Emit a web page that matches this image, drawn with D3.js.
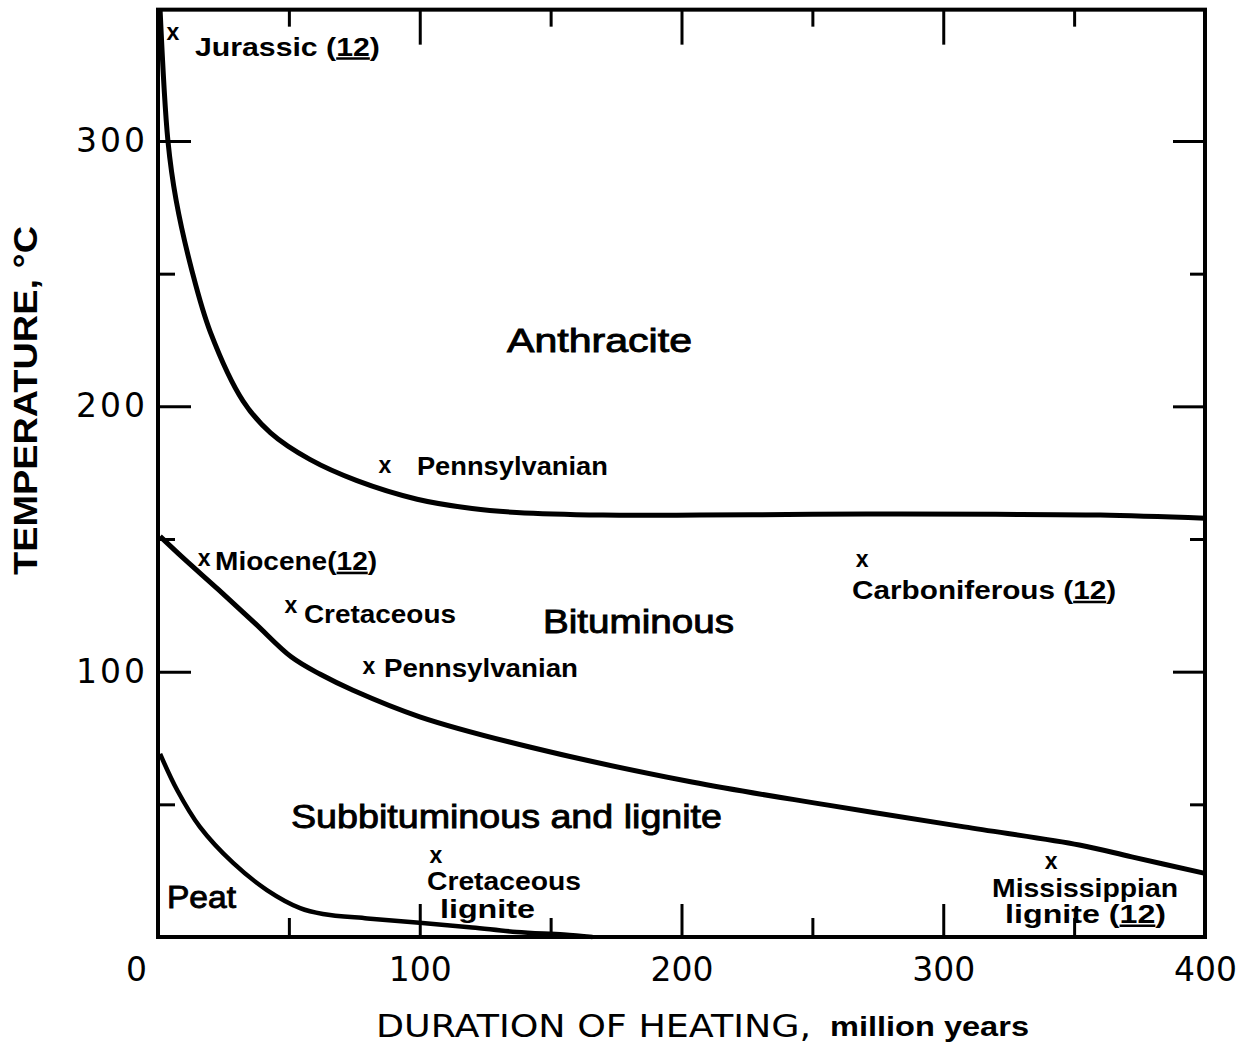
<!DOCTYPE html>
<html><head><meta charset="utf-8">
<script src="https://cdn.jsdelivr.net/npm/d3@7"></script>
<style>body{margin:0;background:#fff}</style>
</head><body><svg id="c" width="1251" height="1045"></svg>
<script>
// ---------- data ----------
const xTicksMajor = [0, 100, 200, 300, 400];
const xTicksMinor = [50, 150, 250, 350];
const yTicksMajor = [100, 200, 300];
const yTicksMinor = [50, 150, 250];

// boundary anthracite / bituminous
const anthraciteDur  = [0.8, 3.8, 6.9, 13, 20, 32.5, 43, 58, 76, 99, 120, 137, 170, 207, 250, 284, 320, 360, 400];
const anthraciteTemp = [349.4, 300, 277.8, 251, 228, 202, 190, 180, 172, 165, 161.5, 160, 159, 159, 159.3, 159.4, 159.3, 159, 157.8];
// boundary bituminous / subbituminous
const bituminousDur  = [0.8, 10, 23, 37, 51, 62, 74.5, 100, 142, 204, 256, 308, 352, 372, 400];
const bituminousTemp = [151, 142.5, 131, 118.3, 105.5, 99, 93, 83, 71.6, 58.4, 49.7, 41.5, 34.7, 30.2, 24];
// boundary subbituminous / peat
const peatDur  = [0.8, 7.3, 16, 28.7, 41.6, 54.3, 63, 80, 101, 120, 137, 155, 166];
const peatTemp = [69, 55.4, 41.5, 27.9, 17.7, 10.9, 8.7, 7.0, 5.3, 3.6, 1.9, 0.9, 0];

// sample points
const sampleNames = ["Jurassic (12)", "Pennsylvanian", "Miocene(12)", "Cretaceous", "Pennsylvanian",
                     "Carboniferous (12)", "Cretaceous|lignite", "Mississippian|lignite (12)"];
const sampleDur  = [5.7, 86.7, 17.6, 50.8, 80.6, 269, 106.2, 341.2];
const sampleTemp = [340.5, 177.1, 142.1, 124.4, 101.4, 141.7, 30.2, 28];

const regionNames = ["Anthracite", "Bituminous", "Subbituminous and lignite", "Peat"];

// ---------- layout ----------
const labelLayout = [
  [{dx: 22, dy: 22, w: 185}],
  [{dx: 32, dy: 8, w: 191}],
  [{dx: 11, dy: 10, w: 162}],
  [{dx: 13, dy: 16, w: 152}],
  [{dx: 15, dy: 9, w: 194}],
  [{dx: -10, dy: 38, w: 264}],
  [{dx: -9, dy: 33, w: 154}, {dx: 4, dy: 61, w: 95}],
  [{dx: -59, dy: 34, w: 186}, {dx: -46, dy: 60, w: 161}]
];
const regionLayout = [
  {x: 507, y: 352, w: 185, fs: 33},
  {x: 543, y: 633, w: 191, fs: 33},
  {x: 291, y: 828, w: 431, fs: 33},
  {x: 167, y: 908, w: 69, fs: 31}
];

const svg = d3.select("#c");
svg.append("rect").attr("width", 1251).attr("height", 1045).attr("fill", "#fff");

const x = d3.scaleLinear().domain([0, 400]).range([158, 1205]);
const y = d3.scaleLinear().domain([0, 300]).range([937, 141]);
const yTop = 349.5;

// frame
svg.append("rect")
  .attr("x", x(0)).attr("y", y(yTop))
  .attr("width", x(400) - x(0)).attr("height", y(0) - y(yTop))
  .attr("fill", "none").attr("stroke", "#000").attr("stroke-width", 4);

function styleAxis(g) {
  g.select(".domain").remove();
  g.selectAll(".tick line").attr("stroke", "#000").attr("stroke-width", 3);
  g.selectAll(".tick text").attr("fill", "#000")
    .attr("font-family", "DejaVu Sans").attr("font-size", 33);
}

// bottom axis
const gB = svg.append("g").attr("transform", `translate(0,${y(0)})`)
  .call(d3.axisBottom(x).tickValues(xTicksMajor).tickSize(-33).tickPadding(21).tickFormat(d3.format("d")));
styleAxis(gB);
gB.selectAll(".tick text").filter(d => d === 0).attr("x", -22);
const gBm = svg.append("g").attr("transform", `translate(0,${y(0)})`)
  .call(d3.axisBottom(x).tickValues(xTicksMinor).tickSize(-19).tickFormat(""));
styleAxis(gBm);

// top axis
const gT = svg.append("g").attr("transform", `translate(0,${y(yTop)})`)
  .call(d3.axisTop(x).tickValues(xTicksMajor.slice(1, 4)).tickSize(-35).tickFormat(""));
styleAxis(gT);
const gTm = svg.append("g").attr("transform", `translate(0,${y(yTop)})`)
  .call(d3.axisTop(x).tickValues(xTicksMinor).tickSize(-17).tickFormat(""));
styleAxis(gTm);

// left axis
const gL = svg.append("g").attr("transform", `translate(${x(0)},0)`)
  .call(d3.axisLeft(y).tickValues(yTicksMajor).tickSize(-33).tickPadding(13).tickFormat(d3.format("d")));
styleAxis(gL);
gL.selectAll(".tick text").attr("letter-spacing", 3).attr("dx", 3);
const gLm = svg.append("g").attr("transform", `translate(${x(0)},0)`)
  .call(d3.axisLeft(y).tickValues(yTicksMinor).tickSize(-17).tickFormat(""));
styleAxis(gLm);

// right axis
const gR = svg.append("g").attr("transform", `translate(${x(400)},0)`)
  .call(d3.axisRight(y).tickValues(yTicksMajor).tickSize(-32).tickFormat(""));
styleAxis(gR);
const gRm = svg.append("g").attr("transform", `translate(${x(400)},0)`)
  .call(d3.axisRight(y).tickValues(yTicksMinor).tickSize(-15).tickFormat(""));
styleAxis(gRm);

// curves
const line = d3.line().x(d => x(d[0])).y(d => y(d[1])).curve(d3.curveCatmullRom.alpha(0.5));
const curves = [
  [d3.zip(anthraciteDur, anthraciteTemp), 5],
  [d3.zip(bituminousDur, bituminousTemp), 5],
  [d3.zip(peatDur, peatTemp), 4.5]
];
curves.forEach(([pts, w]) => {
  svg.append("path").attr("d", line(pts)).attr("fill", "none")
    .attr("stroke", "#000").attr("stroke-width", w).attr("stroke-linecap", "butt");
});

// underline helper for "(12)"
function underline12(textSel) {
  const node = textSel.node();
  const s = node.textContent;
  const i = s.indexOf("12");
  if (i < 0) return;
  const a = node.getExtentOfChar(i), b = node.getExtentOfChar(i + 1);
  const yb = a.y + a.height - 2;
  svg.append("line").attr("x1", a.x).attr("x2", b.x + b.width)
    .attr("y1", yb).attr("y2", yb)
    .attr("stroke", "#000").attr("stroke-width", 2.6);
}

// sample markers and labels
sampleNames.forEach((name, k) => {
  const mx = x(sampleDur[k]), my = y(sampleTemp[k]);
  svg.append("text").attr("x", mx).attr("y", my).attr("dy", "0.27em")
    .attr("text-anchor", "middle").attr("font-family", "Liberation Sans")
    .attr("font-weight", "bold").attr("font-size", 23).text("x");
  name.split("|").forEach((ln, j) => {
    const L = labelLayout[k][j];
    const t = svg.append("text").attr("x", mx + L.dx).attr("y", my + L.dy)
      .attr("font-family", "Liberation Sans").attr("font-weight", "bold")
      .attr("font-size", 25).attr("textLength", L.w).attr("lengthAdjust", "spacingAndGlyphs")
      .text(ln);
    underline12(t);
  });
});

// region labels
regionNames.forEach((name, k) => {
  const L = regionLayout[k];
  svg.append("text").attr("x", L.x).attr("y", L.y)
    .attr("font-family", "Liberation Sans").attr("font-size", L.fs)
    .attr("stroke", "#000").attr("stroke-width", 0.9)
    .attr("textLength", L.w).attr("lengthAdjust", "spacingAndGlyphs").text(name);
});

// axis titles
svg.append("text").attr("x", 376).attr("y", 1037)
  .attr("font-family", "DejaVu Sans").attr("font-size", 32)
  .attr("textLength", 435).attr("lengthAdjust", "spacingAndGlyphs")
  .text("DURATION OF HEATING,");
svg.append("text").attr("x", 830).attr("y", 1036)
  .attr("font-family", "Liberation Sans").attr("font-weight", "bold").attr("font-size", 27)
  .attr("textLength", 199).attr("lengthAdjust", "spacingAndGlyphs")
  .text("million years");
svg.append("text").attr("transform", "translate(37,575) rotate(-90)")
  .attr("font-family", "Liberation Sans").attr("font-weight", "bold").attr("font-size", 33)
  .attr("textLength", 349).attr("lengthAdjust", "spacingAndGlyphs")
  .text("TEMPERATURE, °C");
</script></body></html>
